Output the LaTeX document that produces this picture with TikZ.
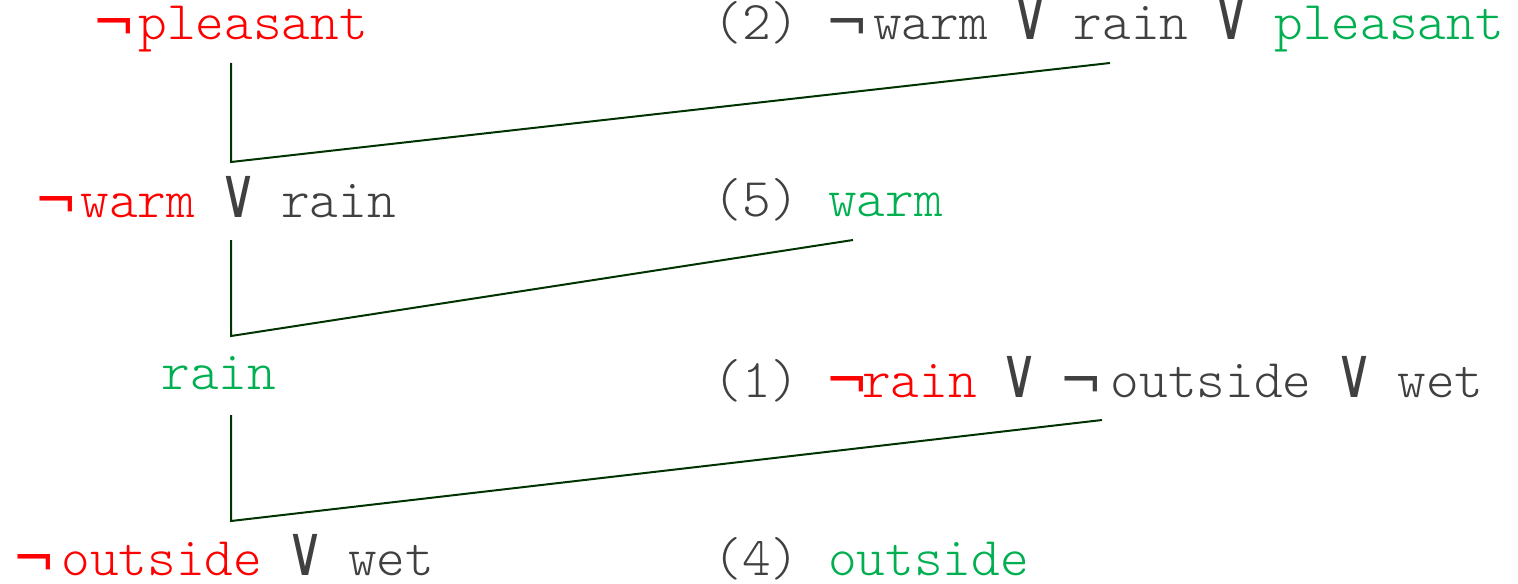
\documentclass[tikz,border=0pt]{standalone}
\usepackage{fontspec}
\setmonofont{lmmonolt10-regular}[Extension=.otf]
\newfontfamily\symf{DejaVu Sans}
\definecolor{tx}{HTML}{404040}
\definecolor{rd}{HTML}{FF0000}
\definecolor{gr}{HTML}{00B050}
\definecolor{ln}{HTML}{003300}
\newlength\px \setlength\px{0.5pt}
\newlength\cellw \setlength\cellw{14.33pt}
% negation sign followed by a gap of given width (in px)
\newcommand\NOT[1]{\makebox[#1\px][l]{\hspace{-3\px}\raisebox{-2\px}{\scalebox{0.95}[1]{\symf ¬}}}}
% logical or, occupying one monospace cell
\newcommand\OR{\makebox[\cellw][c]{\scalebox{0.95}[1.3]{\symf ∨}}}
\tikzset{
  lbl/.style={inner sep=0pt, anchor=base west, font=\ttfamily\fontsize{27.3}{30}\selectfont, text=tx},
  conn/.style={draw=ln, line width=1pt}
}
\begin{document}
\begin{tikzpicture}[x=0.5pt,y=-0.5pt]
\useasboundingbox (0,0) rectangle (1518,583);
% left column
\node[lbl] (l1) at (95,40) {\textcolor{rd}{\NOT{43}pleasant}};
\node[lbl] (l2) at (37,217) {\textcolor{rd}{\NOT{43}warm} \OR{} rain};
\node[lbl] (l3) at (161,389) {\textcolor{gr}{rain}};
\node[lbl] (l4) at (15,575) {\textcolor{rd}{\NOT{46}outside} \OR{} wet};
% right column
\node[lbl] (r2) at (713,40) {(2) \NOT{45}warm \OR{} rain \OR{} \textcolor{gr}{pleasant}};
\node[lbl] (r5) at (713,216) {(5) \textcolor{gr}{warm}};
\node[lbl] (r1) at (713,397) {(1) \textcolor{rd}{\NOT{34}rain} \OR{} \NOT{48}outside \OR{} wet};
\node[lbl] (r4) at (713,575) {(4) \textcolor{gr}{outside}};
% connectors
\coordinate (a1) at (231,63);  \coordinate (k1) at (231,162); \coordinate (b1) at (1110,63);
\coordinate (a2) at (231,240); \coordinate (k2) at (231,336); \coordinate (b2) at (853,240);
\coordinate (a3) at (231,415); \coordinate (k3) at (231,521); \coordinate (b3) at (1102,420);
\draw[conn] (a1) -- (k1) -- (b1);
\draw[conn] (a2) -- (k2) -- (b2);
\draw[conn] (a3) -- (k3) -- (b3);
\end{tikzpicture}
\end{document}
